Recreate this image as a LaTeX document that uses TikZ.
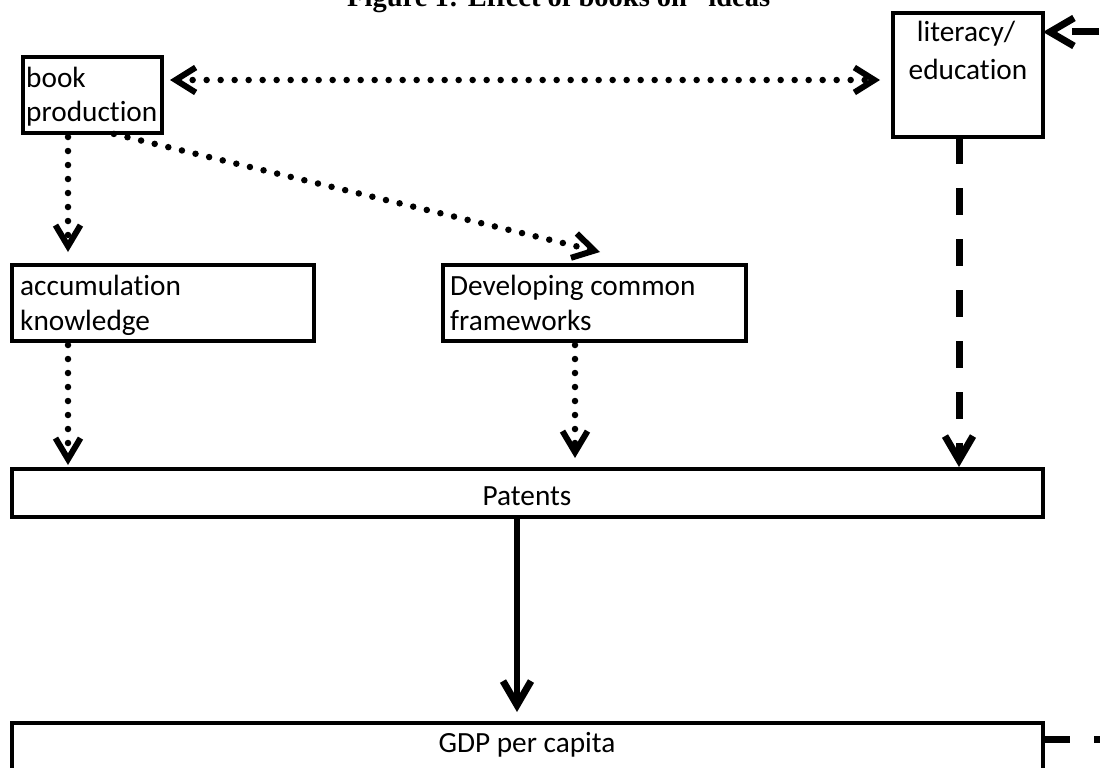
\documentclass[tikz,border=0pt]{standalone}
\usepackage{fontspec}
\setmainfont{Carlito}[Ligatures=NoCommon]
\newfontfamily\titlefont{Liberation Serif}
\usetikzlibrary{arrows.meta}
\begin{document}
\begin{tikzpicture}[x=1pt,y=-1pt,
  box/.style={draw, line width=4pt, inner sep=0pt, outer sep=0pt, anchor=north west},
  txt/.style={inner sep=0pt, font=\fontsize{29.3}{36}\selectfont},
  ttl/.style={inner sep=0pt, font=\titlefont\bfseries\fontsize{28.5}{34}\selectfont},
  tipa/.style={-{Straight Barb[length=21pt,width=25pt,line width=6pt]}},
  tipb/.style={-{Straight Barb[length=24pt,width=28pt,line width=7pt]}},
  tipab/.style={{Straight Barb[length=20pt,width=25pt,line width=6pt]}-{Straight Barb[length=20pt,width=25pt,line width=6pt]}},
  dots/.style={line width=6.5pt, line cap=round, dash pattern=on 0pt off 14pt},
  dash7/.style={line width=7pt, dash pattern=on 27pt off 24pt},
  solid6/.style={line width=6.5pt}
]
\useasboundingbox (0,0) rectangle (1100,768);
\clip (0,0) rectangle (1100,768);

% title
\node[ttl, anchor=base west] (title) at (347,7) {Figure 1: Effect of books on “ideas”};

% boxes
\node[box, minimum width=139pt, minimum height=76pt] (book) at (23,57) {};
\node[box, minimum width=150pt, minimum height=124pt] (lit) at (893,13) {};
\node[box, minimum width=302pt, minimum height=76pt] (acc) at (12,265) {};
\node[box, minimum width=303pt, minimum height=76pt] (dev) at (443,265) {};
\node[box, minimum width=1031pt, minimum height=48pt] (pat) at (12,469) {};
\node[box, minimum width=1031pt, minimum height=77pt] (gdp) at (12,723) {};

% texts
\node[txt, anchor=base west] (bookA) at (26,88) {book};
\node[txt, anchor=base west] (bookB) at (26,121) {production};
\node[txt, anchor=base] (litA) at (966,42) {literacy/};
\node[txt, anchor=base] (litB) at (968,79) {education};
\node[txt, anchor=base west] (accA) at (20,295) {accumulation};
\node[txt, anchor=base west] (accB) at (20,330) {knowledge};
\node[txt, anchor=base west] (devA) at (450,295) {Developing common};
\node[txt, anchor=base west] (devB) at (450,330) {frameworks};
\node[txt, anchor=base] (patT) at (527,505) {Patents};
\node[txt, anchor=base] (gdpT) at (527,752) {GDP per capita};

% connectors
\draw[dots, tipab, shorten <=8pt, shorten >=13pt] ([yshift=15pt]book.east) -- ([yshift=-5pt]lit.west);
\draw[dots, tipa, shorten <=4pt, shorten >=13pt] ([xshift=-24.5pt]book.south) -- ([xshift=-95pt]acc.north);
\draw[dots, tipa, shorten <=4pt] ([xshift=17.5pt]book.south) -- ([xshift=5.5pt,yshift=13pt]dev.north);
\draw[dots, tipa, shorten <=4pt, shorten >=4pt] ([xshift=-95pt]acc.south) -- ([xshift=-459.5pt]pat.north);
\draw[dots, tipa, shorten <=4pt, shorten >=11pt] ([xshift=-19.5pt]dev.south) -- ([xshift=47.5pt]pat.north);
\draw[dash7, tipb, shorten >=2pt] ([xshift=-9pt]lit.south) -- ([xshift=431.5pt]pat.north);
\draw[solid6, tipb, shorten >=11pt] ([xshift=-10.5pt]pat.south) -- ([xshift=-10.5pt]gdp.north);
\draw[dash7, tipb] ([yshift=22.5pt]gdp.east) -- ++(82.5,0) |- ([yshift=43pt]lit.east);
\end{tikzpicture}
\end{document}
